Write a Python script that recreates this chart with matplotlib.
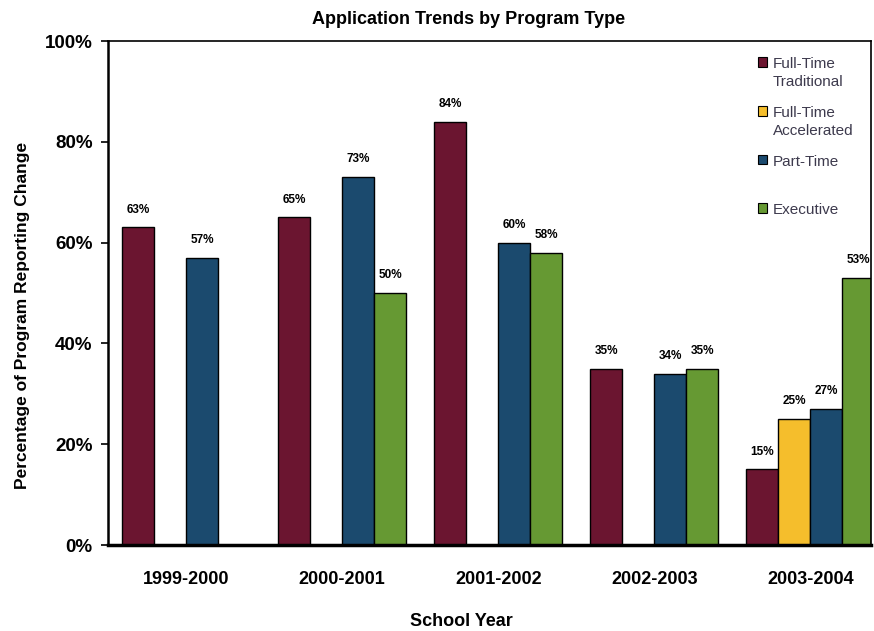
import matplotlib
matplotlib.use("Agg")
import matplotlib.pyplot as plt
import numpy as np

years = ["1999-2000", "2000-2001", "2001-2002", "2002-2003", "2003-2004"]
series_names = ["Full-Time\nTraditional", "Full-Time\nAccelerated", "Part-Time\n", "Executive"]
ft_traditional = [63, 65, 84, 35, 15]
ft_accelerated = [None, None, None, None, 25]
part_time = [57, 73, 60, 34, 27]
executive = [None, 50, 58, 35, 53]
yticks = [0, 20, 40, 60, 80, 100]
colors = ["#6B1530", "#F5BE2C", "#1B4A6E", "#669933"]

plt.rcParams['font.family'] = ['Liberation Sans', 'DejaVu Sans']

fig = plt.figure(figsize=(8.74, 6.31), dpi=100)
ax = fig.add_axes([108/874, 1-545/631, 1-108/874 - 0.003, (545-41)/631])

x = np.arange(len(years))
w = 0.205
all_series = [ft_traditional, ft_accelerated, part_time, executive]
for i, (vals, c, name) in enumerate(zip(all_series, colors, series_names)):
    pos = x + (i - 1.5) * w
    v = [np.nan if val is None else val for val in vals]
    ax.bar(pos, v, width=w, color=c, edgecolor="black", linewidth=1.0, label=name)
    for p, val in zip(pos, vals):
        if val is None:
            continue
        ax.annotate(f"{val}%", (p, val), xytext=(0, 8.5), textcoords="offset points",
                    ha="center", va="bottom", fontsize=8.5, fontweight="bold")

ax.set_ylim(0, 100)
ax.set_xlim(-0.5, (871 - 186) / 156)
ax.set_yticks(yticks)
ax.set_yticklabels([f"{t}%" for t in yticks], fontsize=13.5, fontweight="bold")
ax.set_xticks(x)
ax.set_xticklabels(years, fontsize=13, fontweight="bold")
ax.tick_params(axis="x", length=0, pad=19)
ax.tick_params(axis="y", length=5, width=1.2, direction="out", pad=6)

for s in ["top", "right"]:
    ax.spines[s].set_linewidth(1.2)
ax.spines["left"].set_linewidth(1.8)
ax.spines["bottom"].set_linewidth(2.5)

ax.set_ylabel("Percentage of Program Reporting Change", fontsize=12.5, fontweight="bold")
ax.yaxis.set_label_coords(-0.102, 0.456)
fig.text(461/874, 1-622/631, "School Year", ha="center", va="center",
         fontsize=13, fontweight="bold")
fig.text(469/874, 1-20/631, "Application Trends by Program Type", ha="center", va="center",
         fontsize=13, fontweight="bold")

leg = ax.legend(loc="upper left", bbox_to_anchor=((744-108)/(871-108), 0.995), frameon=False,
                prop={"size": 11}, handlelength=0.6, handleheight=0.6, handletextpad=0.35,
                labelspacing=1.1, labelcolor="#3d3a4d")
for h in leg.legend_handles:
    h.set_linewidth(0.8)
for t in leg.get_texts():
    t.set_linespacing(1.35)
try:
    for col in leg._legend_handle_box.get_children():
        for row in col.get_children():
            row.align = "top"
except Exception:
    pass

fig.savefig("out.png", dpi=100)
